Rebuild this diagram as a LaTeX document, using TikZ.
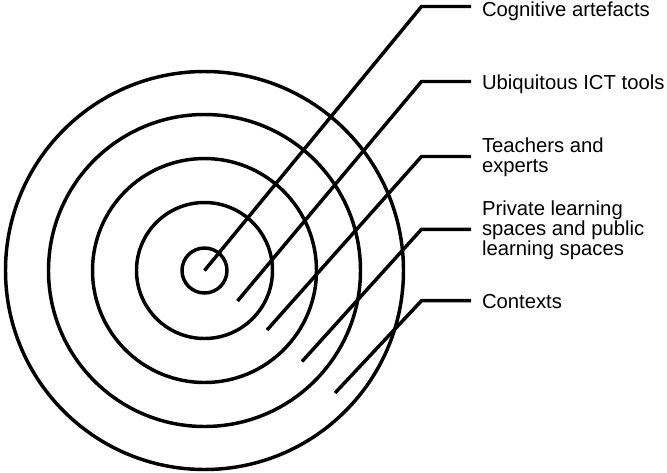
\documentclass[tikz,border=0pt]{standalone}
\usepackage{fontspec}
\setmainfont{Liberation Sans}
\usepackage{tikz}
\begin{document}
\begin{tikzpicture}[x=0.75pt,y=-0.75pt,
    every node/.style={font=\fontsize{15.2}{15}\selectfont},
    ring/.style={line width=2.6pt},
    layer/.style={anchor=base west,inner xsep=8.25pt,inner ysep=0pt,outer sep=0pt,align=left},
    leader/.style={line width=2.6pt}]
    \useasboundingbox (0,0) rectangle (667,472);
    \coordinate (centre) at (204.5,270.5);
    \foreach \r in {22.5,68,112,156,199}
      \draw[ring] (centre) circle[radius=\r];
    % labels (placed by the baseline of their last line)
    \node[layer] (artefacts) at (471,16) {Cognitive artefacts};
    \node[layer] (tools) at (471,89.3) {Ubiquitous ICT tools};
    \node[layer] (teachers) at (471,172.7) {Teachers and\\experts};
    \node[layer] (spaces) at (471,255) {Private learning\\spaces and public\\learning spaces};
    \node[layer] (contexts) at (471,308.3) {Contexts};
    % leader lines
    \coordinate (tip1) at (204.5,270.5);
    \coordinate (bend1) at (421.5,6.5);
    \coordinate (tip2) at (237.5,301);
    \coordinate (bend2) at (421.5,81.5);
    \coordinate (tip3) at (267,330);
    \coordinate (bend3) at (421.5,156.5);
    \coordinate (tip4) at (302,361.5);
    \coordinate (bend4) at (421.5,229.3);
    \coordinate (tip5) at (335,393);
    \coordinate (bend5) at (421.5,300.7);
    \draw[leader] (tip1)--(bend1)--(bend1 -| artefacts.west);
    \draw[leader] (tip2)--(bend2)--(bend2 -| tools.west);
    \draw[leader] (tip3)--(bend3)--(bend3 -| teachers.west);
    \draw[leader] (tip4)--(bend4)--(bend4 -| spaces.west);
    \draw[leader] (tip5)--(bend5)--(bend5 -| contexts.west);
  \end{tikzpicture}
\end{document}
